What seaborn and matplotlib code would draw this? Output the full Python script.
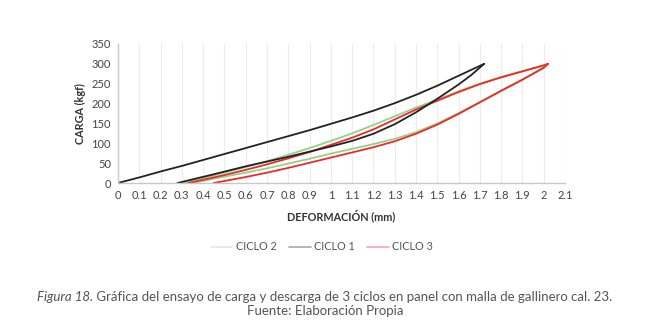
import matplotlib
matplotlib.use("Agg")
import matplotlib.pyplot as plt
import seaborn as sns
import pandas as pd
from matplotlib.lines import Line2D

# ---- data ----
c1_load_x = [0, 0.1, 0.2, 0.3, 0.4, 0.5, 0.6, 0.7, 0.8, 0.9, 1.0, 1.1, 1.2, 1.3, 1.4, 1.5, 1.6, 1.72]
c1_load_y = [0, 14, 29, 43, 58, 73, 88, 103, 118, 133, 149, 165, 182, 201, 222, 245, 270, 300]
c1_unl_x = [1.72, 1.66, 1.6, 1.5, 1.4, 1.3, 1.2, 1.1, 1.0, 0.9, 0.8, 0.6, 0.45, 0.28]
c1_unl_y = [300, 272, 248, 212, 178, 148, 124, 106, 92, 79, 66, 42, 22, 0]

c2_up_x = [0.30, 0.4, 0.5, 0.6, 0.7, 0.8, 0.9, 1.0, 1.1, 1.2, 1.3, 1.4, 1.5, 1.6, 1.7, 1.8, 1.9, 2.0, 2.02]
c2_up_y = [0, 12, 26, 40, 55, 71, 88, 106, 125, 146, 168, 190, 210, 231, 250, 267, 282, 297, 300]
c2_lo_x = [0.35, 0.5, 0.6, 0.7, 0.8, 0.9, 1.0, 1.1, 1.2, 1.3, 1.4, 1.5, 1.6, 1.7, 1.8, 1.9, 2.0, 2.02]
c2_lo_y = [0, 16, 26, 37, 49, 61, 74, 86, 98, 111, 128, 150, 176, 204, 233, 261, 291, 300]

c3_up_x = [0.33, 0.4, 0.5, 0.6, 0.7, 0.8, 0.9, 1.0, 1.1, 1.2, 1.3, 1.4, 1.5, 1.6, 1.7, 1.8, 1.9, 2.0, 2.02]
c3_up_y = [0, 8, 20, 33, 47, 62, 78, 96, 114, 135, 160, 185, 207, 229, 249, 266, 281, 296, 300]
c3_lo_x = [0.45, 0.5, 0.6, 0.7, 0.8, 0.9, 1.0, 1.1, 1.2, 1.3, 1.4, 1.5, 1.6, 1.7, 1.8, 1.9, 2.0, 2.02]
c3_lo_y = [0, 5, 15, 26, 38, 51, 64, 77, 90, 105, 124, 147, 174, 203, 232, 260, 290, 300]

x_ticks = [0, 0.1, 0.2, 0.3, 0.4, 0.5, 0.6, 0.7, 0.8, 0.9, 1.0, 1.1, 1.2, 1.3, 1.4, 1.5, 1.6, 1.7, 1.8, 1.9, 2.0, 2.1]
x_tick_labels = ["0", "0.1", "0.2", "0.3", "0.4", "0.5", "0.6", "0.7", "0.8", "0.9", "1", "1.1", "1.2",
                 "1.3", "1.4", "1.5", "1.6", "1.7", "1.8", "1.9", "2", "2.1"]
y_ticks = [0, 50, 100, 150, 200, 250, 300, 350]

x_label = "DEFORMACIÓN (mm)"
y_label = "CARGA (kgf)"
caption_italic = "Figura 18."
caption_rest = " Gráfica del ensayo de carga y descarga de 3 ciclos en panel con malla de gallinero cal. 23."
caption_line2 = "Fuente: Elaboración Propia"

# ---- build tidy table ----
rows = []
def add(name, seg, xs, ys):
    for i, (a, b) in enumerate(zip(xs, ys)):
        rows.append({"ciclo": name, "seg": seg, "order": i, "x": a, "y": b})

add("CICLO 2", "c2u", c2_up_x, c2_up_y)
add("CICLO 2", "c2l", c2_lo_x, c2_lo_y)
add("CICLO 3", "c3u", c3_up_x, c3_up_y)
add("CICLO 3", "c3l", c3_lo_x, c3_lo_y)
add("CICLO 1", "c1u", c1_load_x, c1_load_y)
add("CICLO 1", "c1l", c1_unl_x, c1_unl_y)
df = pd.DataFrame(rows)

colors = {"CICLO 1": "#222222", "CICLO 2": "#8fd48a", "CICLO 3": "#f02828"}
legend_colors = {"CICLO 2": "#e4e4e4", "CICLO 1": "#a8a8a8", "CICLO 3": "#f2a6bd"}

sns.set_theme(style="white")
plt.rcParams["font.family"] = ["Lato", "DejaVu Sans"]

fig = plt.figure(figsize=(6.5, 3.27), dpi=100)
ax = fig.add_axes([118 / 650, 1 - 183 / 327, (565 - 118) / 650, (183 - 44) / 327])

for seg, sub in df.groupby("seg", sort=False):
    sns.lineplot(data=sub, x="x", y="y", sort=False, estimator=None,
                 color=colors[sub["ciclo"].iloc[0]], linewidth=1.3, ax=ax, legend=False)

ax.set_xlim(0, 2.1)
ax.set_ylim(0, 350)
ax.set_xticks(x_ticks)
ax.set_xticklabels(x_tick_labels)
ax.set_yticks(y_ticks)
ax.tick_params(axis="both", length=0, labelsize=8, colors="#444444", pad=5)
ax.xaxis.grid(True, color="#ececec", linewidth=0.8)
ax.yaxis.grid(False)
for s in ["top", "right"]:
    ax.spines[s].set_visible(False)
for s in ["left", "bottom"]:
    ax.spines[s].set_color("#c8c8c8")
    ax.spines[s].set_linewidth(1.0)

ax.set_xlabel(x_label, fontsize=7.8, fontweight="bold", color="#333333", labelpad=6)
ax.set_ylabel(y_label, fontsize=7.8, fontweight="bold", color="#333333", labelpad=4)

handles = [Line2D([0], [0], color=legend_colors[n], lw=1.2) for n in ["CICLO 2", "CICLO 1", "CICLO 3"]]
fig.legend(handles, ["CICLO 2", "CICLO 1", "CICLO 3"], loc="center", bbox_to_anchor=(322 / 650, 1 - 247 / 327),
           ncol=3, frameon=False, fontsize=7.8, handlelength=2.0, columnspacing=1.1, handletextpad=0.35,
           labelcolor="#555555")

# caption with italic prefix
cap_size = 9.5
t1 = fig.text(0, 0, caption_italic, fontsize=cap_size, color="#555555", style="italic", va="center")
t2 = fig.text(0, 0, caption_rest, fontsize=cap_size, color="#555555", va="center")
fig.canvas.draw()
r = fig.canvas.get_renderer()
w1 = t1.get_window_extent(r).width
w2 = t2.get_window_extent(r).width
total = w1 + w2
x0 = (650 - total) / 2
yc = 1 - 297 / 327
t1.set_position((x0 / 650, yc))
t2.set_position(((x0 + w1) / 650, yc))
fig.text(0.5, 1 - 311 / 327, caption_line2, ha="center", va="center", fontsize=cap_size, color="#555555")

fig.savefig("out.png", dpi=100, facecolor="white")
